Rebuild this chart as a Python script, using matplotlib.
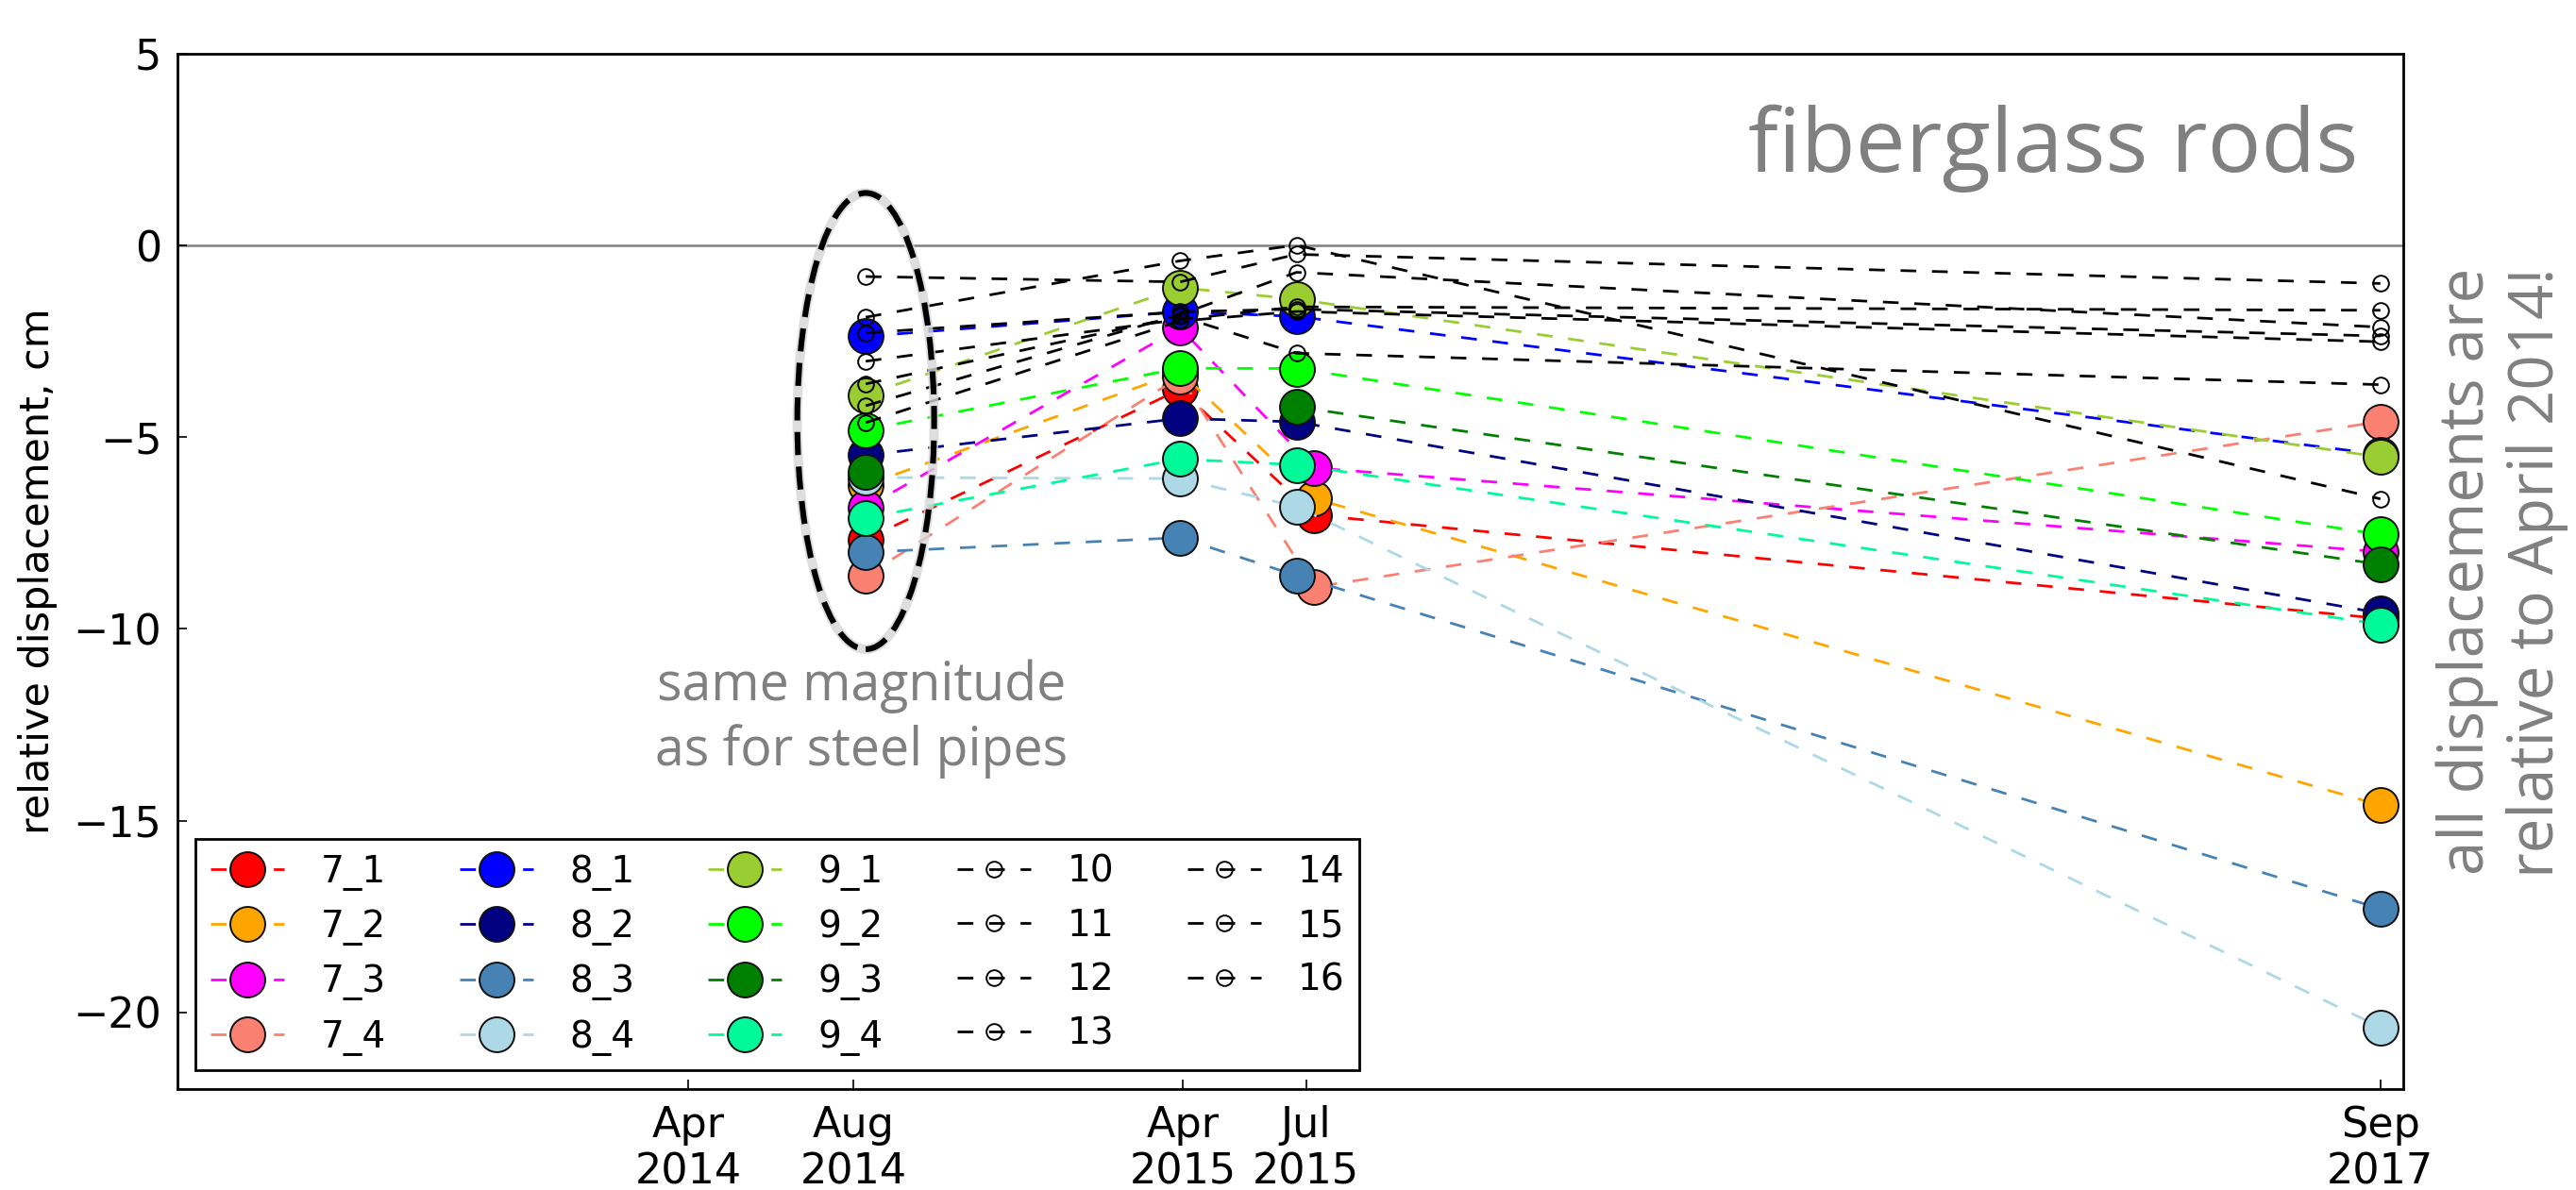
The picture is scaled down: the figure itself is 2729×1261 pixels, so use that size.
import numpy as np
import matplotlib
matplotlib.use("Agg")
import matplotlib.pyplot as plt
import matplotlib.dates as mdates
from matplotlib.patches import Ellipse
from datetime import datetime

# measurement dates (group 7 was surveyed a bit later in summer 2015)
dates = [datetime(2014, 8, 10), datetime(2015, 3, 30), datetime(2015, 6, 24), datetime(2017, 9, 1)]
dates_7 = [datetime(2014, 8, 10), datetime(2015, 3, 30), datetime(2015, 7, 7), datetime(2017, 9, 1)]

# fiberglass rods, displacement in cm relative to April 2014
names_7 = ['7_1', '7_2', '7_3', '7_4']
colors_7 = ['red', 'orange', 'magenta', 'salmon']
disp_7 = [[-7.67, -3.75, -7.03, -9.73],
          [-6.25, -3.30, -6.60, -14.60],
          [-6.84, -2.15, -5.80, -7.99],
          [-8.62, -3.42, -8.91, -4.59]]

names_8 = ['8_1', '8_2', '8_3', '8_4']
colors_8 = ['blue', 'navy', 'steelblue', 'lightblue']
disp_8 = [[-2.37, -1.73, -1.85, -5.45],
          [-5.47, -4.51, -4.60, -9.59],
          [-8.00, -7.62, -8.61, -17.30],
          [-6.05, -6.08, -6.81, -20.39]]

names_9 = ['9_1', '9_2', '9_3', '9_4']
colors_9 = ['yellowgreen', 'lime', 'green', 'mediumspringgreen']
disp_9 = [[-3.90, -1.10, -1.40, -5.52],
          [-4.81, -3.20, -3.21, -7.54],
          [-5.90, np.nan, -4.21, -8.32],
          [-7.10, -5.57, -5.72, -9.88]]

# other points (black, small open markers)
names_other = ['10', '11', '12', '13', '14', '15', '16']
disp_other = [[-0.81, -0.95, -0.23, -0.99],
              [-1.87, -0.40, 0.01, -6.61],
              [-2.28, -1.73, -1.66, -2.36],
              [-3.02, -1.93, -1.60, -1.69],
              [-3.61, -1.85, -2.81, -3.63],
              [-4.18, -1.80, -0.70, -2.13],
              [-4.62, -1.97, -1.72, -2.51]]

tick_dates = [datetime(2014, 4, 1), datetime(2014, 8, 1), datetime(2015, 4, 1),
              datetime(2015, 7, 1), datetime(2017, 9, 1)]
tick_labels = ['Apr\n2014', 'Aug\n2014', 'Apr\n2015', 'Jul\n2015', 'Sep\n2017']

gray = '#808080'

fig = plt.figure(figsize=(13.645, 6.305), dpi=200)
ax = fig.add_axes([0.0689, 0.0849, 0.8641, 0.8699])

ax.axhline(0, color=gray, lw=0.9, zorder=1)

def plot_group(x, names, colors, values):
    for name, col, vals in zip(names, colors, values):
        ax.plot(x, vals, color=col, ls='--', dashes=(6, 6), lw=1.0,
                marker='o', ms=13.3, mfc=col, mec='#111111', mew=0.7, label=name)

plot_group(dates_7, names_7, colors_7, disp_7)
plot_group(dates, names_8, colors_8, disp_8)
plot_group(dates, names_9, colors_9, disp_9)
for name, vals in zip(names_other, disp_other):
    ax.plot(dates, vals, color='black', ls='--', dashes=(6, 6), lw=1.0,
            marker='o', ms=6, mfc='none', mec='black', mew=0.7, label=name)

# dashed ellipse around the first survey, with a soft gray halo
xc = mdates.date2num(datetime(2014, 8, 10))
ax.add_patch(Ellipse((xc, -4.58), 101, 11.9, fill=False, ec='#d6d6d6', lw=3.6, alpha=0.8, zorder=5))
ax.add_patch(Ellipse((xc, -4.58), 101, 11.9, fill=False, ec='black', lw=2.2,
                     ls=(0, (4, 2)), zorder=6))
ax.text(mdates.date2num(datetime(2014, 8, 7)), -10.8, 'same magnitude\nas for steel pipes',
        ha='center', va='top', color=gray, fontsize=20, family='Open Sans', linespacing=1.25)

ax.text(0.9796, 0.886, 'fiberglass rods', transform=ax.transAxes, ha='right', va='baseline',
        color=gray, fontsize=34, family='Open Sans')

fig.text(0.997, 0.519, 'all displacements are\nrelative to April 2014!', rotation=90,
         ha='right', va='center', color=gray, fontsize=23.5, family='Open Sans', linespacing=1.15)

ax.set_xlim(datetime(2013, 3, 20), datetime(2017, 9, 18))
ax.set_ylim(-22, 5)
ax.set_xticks(tick_dates)
ax.set_xticklabels(tick_labels)
ax.set_yticks([5, 0, -5, -10, -15, -20])
ax.tick_params(direction='in', length=3.6, width=0.6, labelsize=16, pad=6,
               top=False, right=False)
ax.set_ylabel('relative displacement, cm', fontsize=15.5, labelpad=6)
for sp in ax.spines.values():
    sp.set_linewidth(1.0)
    sp.set_color('black')

leg = ax.legend(loc='lower left', ncol=5, numpoints=1, fontsize=14, handlelength=2,
                handletextpad=1.0, columnspacing=2, borderpad=0.4, labelspacing=0.5,
                fancybox=False, framealpha=1)
leg.get_frame().set_edgecolor('black')
leg.get_frame().set_linewidth(1.0)

fig.savefig('out.png', dpi=200)
